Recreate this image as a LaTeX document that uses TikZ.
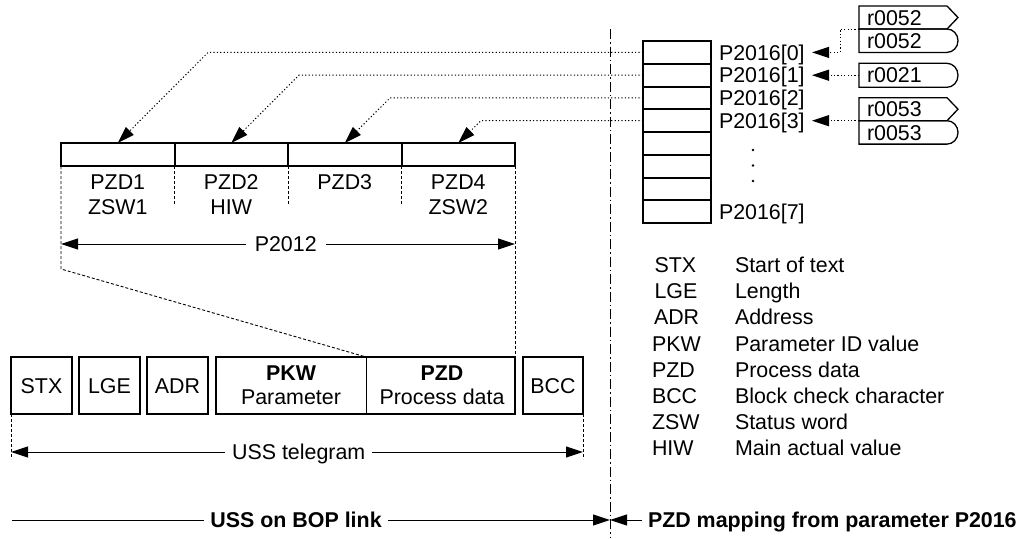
\documentclass[tikz,border=0pt]{standalone}
\usepackage{fontspec}
\setmainfont{Liberation Sans}
\usetikzlibrary{arrows.meta}
\begin{document}
\begin{tikzpicture}[x=1pt,y=-1pt,
  every node/.style={font=\fontsize{21.4pt}{25pt}\selectfont, inner sep=0pt, outer sep=0pt},
  lbl/.style={text height=15.3pt, text depth=0pt},
  boxthick/.style={draw, line width=2pt},
  tbox/.style={boxthick, lbl, minimum height=57pt},
  thinl/.style={line width=1pt},
  dotl/.style={line width=1pt, dash pattern=on 1.2pt off 2.2pt},
  dashl/.style={line width=0.9pt, dash pattern=on 3pt off 2pt},
  dashdotl/.style={line width=1pt, dash pattern=on 10pt off 3pt on 1.5pt off 3pt},
  arrowend/.style={-{Triangle[length=17pt,width=11pt]}},
  arrowboth/.style={{Triangle[length=17pt,width=11pt]}-{Triangle[length=17pt,width=11pt]}},
  rbox/.style={draw, line width=1.3pt},
]
\fill[white] (0,0) rectangle (1030,538);
\useasboundingbox (0,0) rectangle (1030,538);

% vertical separator
\coordinate (vt) at (610,29);
\coordinate (vb) at (610,538);
\draw[dashdotl] (vt) -- (vb);

% ---------- right stack P2016 ----------
\foreach \k in {0,...,7}
  \node[boxthick, minimum width=68pt, minimum height=22.75pt] (s\k) at (677,{41+22.75*(\k+0.5)}) {};
\node[lbl, anchor=west] (p0) at (719,52.4) {P2016[0]};
\node[lbl, anchor=west] (p1) at (719,75.2) {P2016[1]};
\node[lbl, anchor=west] (p2) at (719,97.9) {P2016[2]};
\node[lbl, anchor=west] (p3) at (719,120.7) {P2016[3]};
\node[lbl, anchor=west] (p7) at (719,211.6) {P2016[7]};
\fill (753,150) circle[radius=1.3pt];
\fill (753,165.5) circle[radius=1.3pt];
\fill (753,181) circle[radius=1.3pt];

% ---------- r boxes ----------
\draw[rbox] (859,6) -- (947,6) -- (958,17.5) -- (947,29) -- (859,29) -- cycle;
\node[lbl, anchor=west] (r52a) at (867,17.5) {r0052};
\draw[rbox] (859,29) -- (947,29) arc[start angle=-90,end angle=90,x radius=11,y radius=11.7] -- (859,52.4) -- cycle;
\node[lbl, anchor=west] (r52b) at (867,40.7) {r0052};
\draw[rbox] (859,63.3) -- (947,63.3) arc[start angle=-90,end angle=90,x radius=11,y radius=12] -- (859,87.3) -- cycle;
\node[lbl, anchor=west] (r21) at (867,75.3) {r0021};
\draw[rbox] (859,97.7) -- (947,97.7) -- (958,109.2) -- (947,120.7) -- (859,120.7) -- cycle;
\node[lbl, anchor=west] (r53a) at (867,109.2) {r0053};
\draw[rbox] (859,120.7) -- (947,120.7) arc[start angle=-90,end angle=90,x radius=11,y radius=11.7] -- (859,144.1) -- cycle;
\node[lbl, anchor=west] (r53b) at (867,132.4) {r0053};

\coordinate (j52) at (859,29);
\coordinate (c0) at (840,52.4);
\coordinate (t0) at (812,52.4);
\coordinate (j21) at (859,75.2);
\coordinate (t1) at (812,75.2);
\coordinate (j53) at (859,120.7);
\coordinate (t3) at (812,120.7);
\draw[dotl, arrowend] (j52) -| (c0) -- (t0);
\draw[dotl, arrowend] (j21) -- (t1);
\draw[dotl, arrowend] (j53) -- (t3);

% ---------- PZD row ----------
\node[boxthick, minimum width=113.5pt, minimum height=23pt] (z1) at (117.75,154.5) {};
\node[boxthick, minimum width=113.5pt, minimum height=23pt] (z2) at (231.25,154.5) {};
\node[boxthick, minimum width=113.5pt, minimum height=23pt] (z3) at (344.75,154.5) {};
\node[boxthick, minimum width=113.5pt, minimum height=23pt] (z4) at (458.25,154.5) {};

\node[lbl] (l1a) at (117.75,182) {PZD1};
\node[lbl] (l1b) at (117.75,207) {ZSW1};
\node[lbl] (l2a) at (231.25,182) {PZD2};
\node[lbl] (l2b) at (231.25,207) {HIW};
\node[lbl] (l3a) at (344.75,182) {PZD3};
\node[lbl] (l4a) at (458.25,182) {PZD4};
\node[lbl] (l4b) at (458.25,207) {ZSW2};

\coordinate (d1) at (174.5,204);
\coordinate (d2) at (288,204);
\coordinate (d3) at (401.5,204);
\draw[dashl] (z1.south east) -- (d1);
\draw[dashl] (z2.south east) -- (d2);
\draw[dashl] (z3.south east) -- (d3);

% mapping arrows
\coordinate (b0) at (208.1,52.4);
\coordinate (b1) at (298.9,75.2);
\coordinate (b2) at (390.1,97.9);
\coordinate (b3) at (480.9,120.7);
\draw[dotl, arrowend] (s0.west) -- (b0) -- (z1.north);
\draw[dotl, arrowend] (s1.west) -- (b1) -- (z2.north);
\draw[dotl, arrowend] (s2.west) -- (b2) -- (z3.north);
\draw[dotl, arrowend] (s3.west) -- (b3) -- (z4.north);

% P2012
\coordinate (pl) at (61,244);
\coordinate (pr) at (515,244);
\draw[thinl, arrowboth] (pl) -- node[pos=0.495, fill=white, lbl, inner xsep=9pt, inner ysep=2pt] (p2012) {P2012} (pr);

% ---------- telegram ----------
\node[tbox, minimum width=61pt] (stx) at (41.5,385.5) {STX};
\node[tbox, minimum width=61pt] (lge) at (109.5,385.5) {LGE};
\node[tbox, minimum width=61pt] (adr) at (177.5,385.5) {ADR};
\node[minimum width=150pt, minimum height=57pt] (pkw) at (291,385.5) {};
\node[minimum width=149pt, minimum height=57pt] (pzd) at (440.5,385.5) {};
\draw[line width=2pt] (pkw.north west) rectangle (pzd.south east);
\draw[line width=0.8pt] (pkw.north east) -- (pkw.south east);
\node[lbl] (pkwa) at (291,373) {\bfseries PKW};
\node[lbl] (pkwb) at (291,397) {Parameter};
\node[lbl] (pzda) at (442,373) {\bfseries PZD};
\node[lbl] (pzdb) at (442,397) {Process data};
\node[tbox, minimum width=60pt] (bcc) at (553,385.5) {BCC};

% zoom lines PZD row -> telegram
\coordinate (kl) at (61,269);
\draw[dashl] (z1.south west) -- (kl) -- (pkw.north east);
\draw[dashl] (z4.south east) -- (pzd.north east);

% USS telegram
\coordinate (ua) at (11,459);
\coordinate (ub) at (583,459);
\draw[dashl] (stx.south west) -- (ua);
\draw[dashl] (bcc.south east) -- (ub);
\coordinate (ul) at (11,452);
\coordinate (ur) at (583,452);
\draw[thinl, arrowboth] (ul) -- node[pos=0.503, fill=white, lbl, inner xsep=7pt, inner ysep=2pt] (usst) {USS telegram} (ur);

% ---------- bottom ----------
\coordinate (bl) at (12,520);
\coordinate (bm) at (610,520);
\draw[thinl, arrowend] (bl) -- node[pos=0.475, fill=white, lbl, inner xsep=6pt, inner ysep=2pt] (ussbop) {\bfseries USS on BOP link} (bm);
\node[lbl, anchor=west] (pzdmap) at (648,520) {\bfseries PZD mapping from parameter P2016};
\coordinate (bq) at (642,520);
\draw[thinl, arrowend] (bq) -- (bm);

% ---------- legend ----------
\foreach \a/\b/\x [count=\i from 0] in {STX/Start of text/654.5, LGE/Length/654.5, ADR/Address/654, PKW/Parameter ID value/652, PZD/Process data/652, BCC/Block check character/652, ZSW/Status word/652, HIW/Main actual value/652}{
  \node[lbl, anchor=west] (ga\i) at (\x,{265+26.14*\i}) {\a};
  \node[lbl, anchor=west] (gb\i) at (735,{265+26.14*\i}) {\b};
}
\end{tikzpicture}
\end{document}
